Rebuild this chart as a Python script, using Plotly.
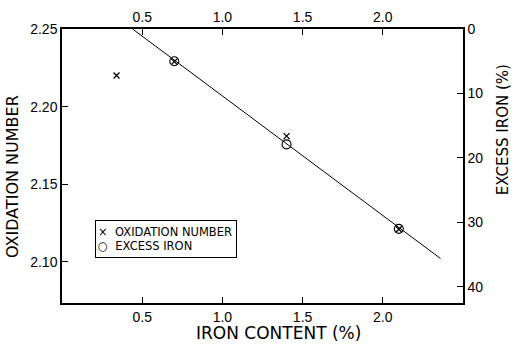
import plotly.graph_objects as go

# Data
iron_ox = [0.34, 0.70, 1.40, 2.10]
oxidation_number = [2.220, 2.229, 2.181, 2.121]

iron_ex = [0.70, 1.40, 2.10]
excess_iron = [5.0, 17.9, 31.0]

fit_iron = [0.44, 2.36]
fit_excess = [0.0, 35.6]

x_ticks = [0.5, 1.0, 1.5, 2.0]
y_ticks = [2.10, 2.15, 2.20, 2.25]
y2_ticks = [0, 10, 20, 30, 40]

tick_font = dict(family="Liberation Sans", size=14, color="black")
title_font = dict(family="DejaVu Sans", size=16, color="black")

fig = go.Figure()

fig.add_trace(go.Scatter(
    x=fit_iron, y=fit_excess, mode="lines", yaxis="y2",
    line=dict(color="black", width=1), showlegend=False, hoverinfo="skip"))

fig.add_trace(go.Scatter(
    x=iron_ex, y=excess_iron, mode="markers", yaxis="y2",
    marker=dict(symbol="circle-open", size=9, color="black",
                line=dict(width=1.1, color="black")),
    name="EXCESS IRON", showlegend=False))

fig.add_trace(go.Scatter(
    x=iron_ox, y=oxidation_number, mode="markers", yaxis="y",
    marker=dict(symbol="x-thin-open", size=6, color="black",
                line=dict(width=1.3, color="black")),
    name="OXIDATION NUMBER", showlegend=False))

# phantom trace to activate top axis
fig.add_trace(go.Scatter(x=[None], y=[None], xaxis="x2", showlegend=False))

axis_common = dict(showline=True, linecolor="black", linewidth=1.5,
                   ticks="inside", ticklen=6, tickwidth=1.3, tickcolor="black",
                   showgrid=False, zeroline=False, tickfont=tick_font,
                   automargin=False)

fig.update_layout(
    width=512, height=345,
    margin=dict(l=62, r=49, t=29, b=42),
    paper_bgcolor="white", plot_bgcolor="white",
    showlegend=False,
    xaxis=dict(range=[0, 2.5], tickvals=x_ticks, tickformat=".1f", **axis_common),
    xaxis2=dict(range=[0, 2.5], tickvals=x_ticks, tickformat=".1f",
                overlaying="x", side="top", anchor="y", **axis_common),
    yaxis=dict(range=[2.0735, 2.25], tickvals=y_ticks, tickformat=".2f", **axis_common),
    yaxis2=dict(range=[42.5, 0], tickvals=y2_ticks, overlaying="y", side="right",
                anchor="x", **axis_common),
)

fig.add_annotation(text="OXIDATION NUMBER", xref="paper", yref="paper",
                   x=-0.122, y=0.46, textangle=-90, showarrow=False,
                   font=title_font, xanchor="center", yanchor="middle")
fig.add_annotation(text="EXCESS IRON (%)", xref="paper", yref="paper",
                   x=1.0998, y=0.631, textangle=-90, showarrow=False,
                   font=dict(family="DejaVu Sans", size=15, color="black"),
                   xanchor="center", yanchor="middle")
fig.add_annotation(text="IRON CONTENT (%)", xref="paper", yref="paper",
                   x=0.539, y=-0.109, showarrow=False,
                   font=dict(family="DejaVu Sans", size=17, color="black"),
                   xanchor="center", yanchor="middle")
fig.add_annotation(text="×  OXIDATION NUMBER<br>○  EXCESS IRON", xref="paper", yref="paper",
                   x=0.0823, y=0.303, xanchor="left", yanchor="top", showarrow=False,
                   align="left", width=136, height=32, borderpad=2, borderwidth=1,
                   bordercolor="black", bgcolor="white",
                   font=dict(family="DejaVu Sans", size=11.5, color="black"))

fig.write_html("out.html", config={"displayModeBar": False},
               post_script="document.body.style.margin='0';document.body.style.overflow='hidden';")
